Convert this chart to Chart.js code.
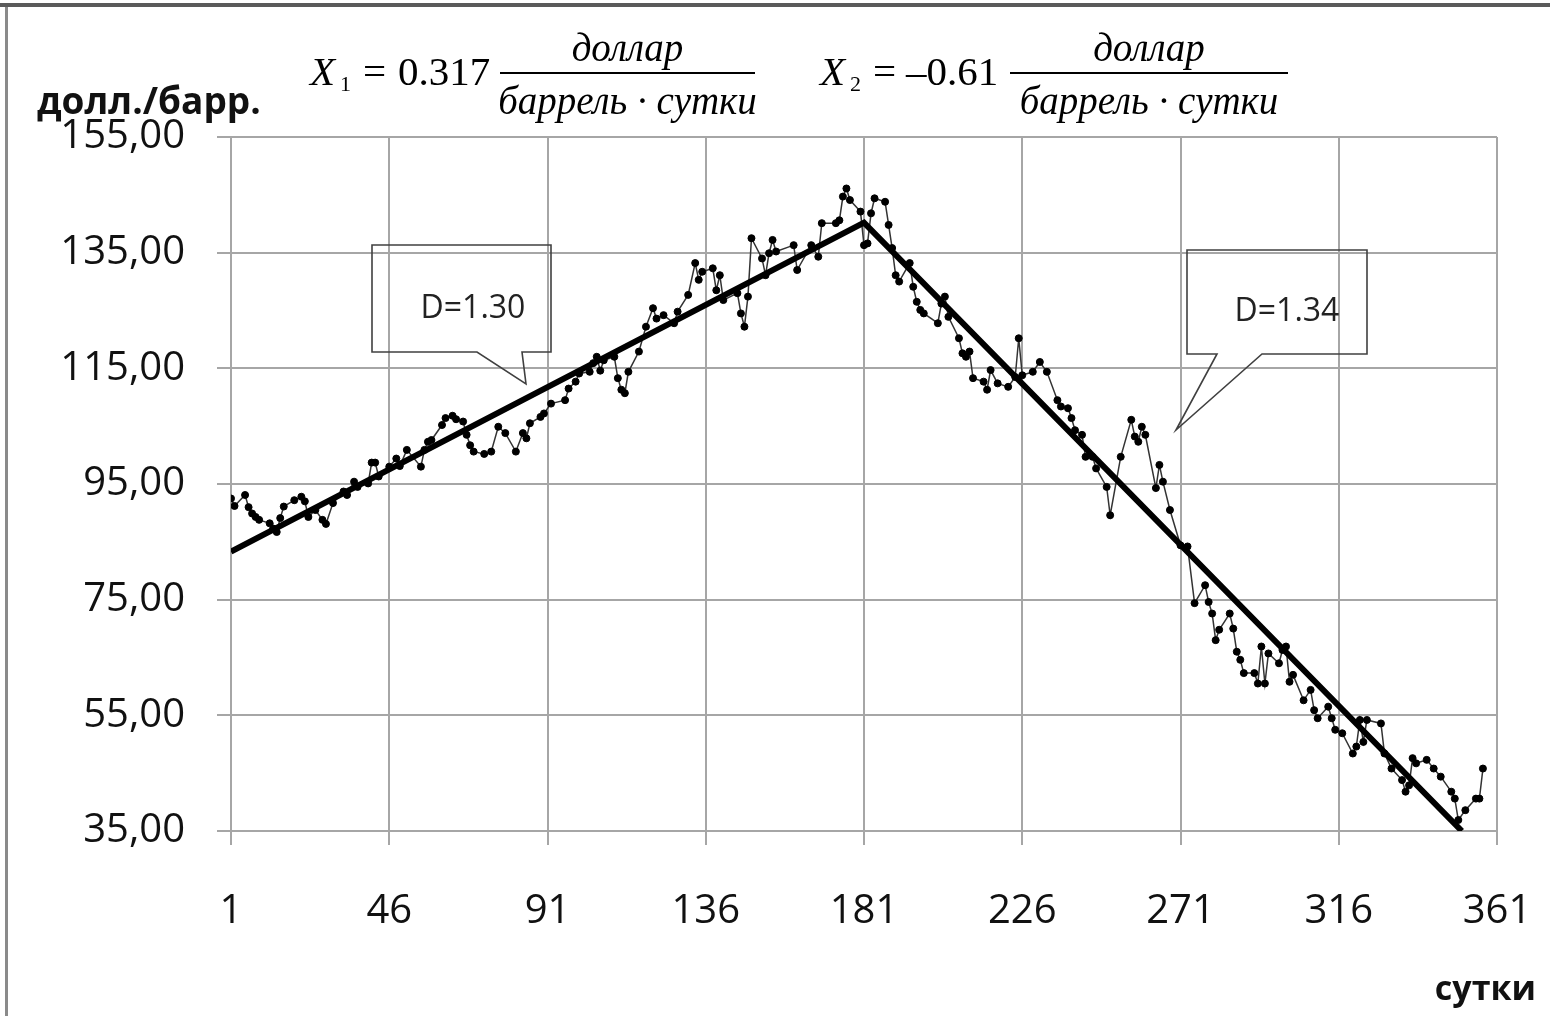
<!DOCTYPE html>
<html>
<head>
<meta charset="utf-8">
<script src="https://cdn.jsdelivr.net/npm/chart.js@4.4.1/dist/chart.umd.min.js"></script>
<style>
  html, body { margin: 0; padding: 0; background: #fff; }
  #wrap { width: 1550px; height: 1016px; position: relative; }
</style>
</head>
<body>
<div id="wrap"><canvas id="myChart" width="1550" height="1016"></canvas></div>
<script>
// цена нефти, долл./барр. по суткам
var days = [1,2,5,6,7,8,9,12,13,14,15,16,19,21,22,23,25,27,28,30,33,34,36,37,40,41,42,43,46,48,49,51,55,56,57,58,61,62,64,65,67,68,69,70,73,75,77,79,82,84,85,86,89,90,92,96,97,99,100,103,104,105,106,107,110,111,112,113,114,117,119,121,122,124,127,128,131,133,134,135,138,139,140,141,145,146,147,148,149,152,153,154,155,156,161,162,166,168,169,173,174,175,176,177,180,181,182,183,184,187,188,189,190,191,194,195,196,197,198,202,203,204,205,208,209,210,211,212,215,216,217,219,222,224,225,226,229,231,233,236,237,239,240,241,243,244,246,247,250,251,254,257,258,259,260,261,264,265,266,268,271,273,275,278,279,280,281,282,285,286,287,288,289,292,293,294,295,296,299,300,301,302,303,306,308,309,310,313,314,315,317,320,321,322,323,324,328,329,331,334,335,336,337,338,341,343,345,348,349,350,352,355,356,357];
var prices = [92.5,91.2,93.1,91.0,89.9,89.3,88.8,88.2,87.3,86.7,89.1,91.1,92.2,92.8,92.0,89.3,90.5,88.8,88.1,91.7,93.7,93.1,95.4,94.5,95.1,98.7,98.7,96.3,98.0,99.4,98.1,100.9,98.0,100.9,102.3,102.6,105.2,106.4,106.8,106.2,105.8,103.5,101.7,100.6,100.2,100.6,104.9,103.8,100.6,103.8,102.9,105.5,106.6,107.2,108.9,109.5,111.5,112.7,114.1,114.4,115.9,117.0,114.6,116.4,117.0,113.3,111.3,110.7,114.4,117.9,122.2,125.4,123.6,124.2,122.8,124.8,127.7,133.2,130.3,131.7,132.3,128.5,131.1,126.8,128.0,124.5,122.2,127.4,137.5,134.0,131.1,134.9,137.2,135.2,136.3,132.0,136.3,134.3,140.1,140.1,140.6,144.7,146.1,144.1,142.1,136.3,136.6,141.8,144.4,143.8,139.8,135.8,131.1,130.0,133.2,129.1,126.5,125.1,124.5,122.8,126.2,127.4,123.9,120.2,117.6,117.0,117.9,113.3,112.7,111.3,114.7,112.4,111.8,113.5,120.2,113.8,114.4,116.1,114.4,109.5,108.4,108.1,106.4,104.3,103.5,99.7,99.7,97.7,94.5,89.6,99.7,106.1,103.2,102.3,104.9,103.5,94.3,98.3,95.4,90.5,84.4,84.2,74.4,77.5,74.6,72.6,68.0,69.8,72.6,70.0,66.0,64.6,62.3,62.3,60.5,66.9,60.5,65.7,64.0,66.3,66.9,60.8,62.0,57.6,59.4,55.9,54.5,56.5,54.5,52.5,51.9,48.4,49.6,54.2,50.4,54.2,53.6,48.4,45.8,43.8,41.8,42.9,47.6,46.7,47.3,45.8,44.4,41.8,40.6,36.9,38.6,40.6,40.6,45.8];

// тренды
var trendDays = [1, 181, 351];
var trendValues = [83.3, 140.2, 35];

var xMin = 1, xMax = 361, xStep = 45;
var yMin = 35, yMax = 155, yStep = 20;

var yTitle = "долл./барр.";
var xTitle = "сутки";
var callouts = ["D=1.30", "D=1.34"];

var seriesPoints = [];
for (var i = 0; i < days.length; i++) {
    seriesPoints.push({x: days[i], y: prices[i]});
}
var trendPoints = [];
for (var j = 0; j < trendDays.length; j++) {
    trendPoints.push({x: trendDays[j], y: trendValues[j]});
}

function callout(ctx, box, tail, tip, text, tx, ty) {
    ctx.save();
    ctx.strokeStyle = "#404040";
    ctx.lineWidth = 1.6;
    ctx.beginPath();
    ctx.moveTo(box[0], box[1]);
    ctx.lineTo(box[2], box[1]);
    ctx.lineTo(box[2], box[3]);
    ctx.lineTo(tail[1], box[3]);
    ctx.lineTo(tip[0], tip[1]);
    ctx.lineTo(tail[0], box[3]);
    ctx.lineTo(box[0], box[3]);
    ctx.closePath();
    ctx.stroke();
    ctx.fillStyle = "#222";
    ctx.font = "32px 'Open Sans'";
    ctx.textAlign = "center";
    ctx.textBaseline = "middle";
    ctx.fillText(text, tx, ty);
    ctx.restore();
}

function formula(ctx, x, sub, value, valueX, lx1, lx2) {
    ctx.save();
    ctx.fillStyle = "#000";
    ctx.textBaseline = "alphabetic";
    ctx.textAlign = "left";
    ctx.font = "italic 41px 'Liberation Serif'";
    ctx.fillText("X", x, 85);
    ctx.font = "22px 'Liberation Serif'";
    ctx.fillText(sub, x + 30, 91);
    ctx.font = "41px 'Liberation Serif'";
    ctx.fillText("=", x + 53, 85);
    ctx.fillText(value, valueX, 85);
    ctx.strokeStyle = "#000";
    ctx.lineWidth = 2;
    ctx.beginPath();
    ctx.moveTo(lx1, 73);
    ctx.lineTo(lx2, 73);
    ctx.stroke();
    ctx.textAlign = "center";
    ctx.font = "italic 39px 'Liberation Serif'";
    ctx.fillText("доллар", (lx1 + lx2) / 2, 61);
    ctx.fillText("баррель · сутки", (lx1 + lx2) / 2, 114);
    ctx.restore();
}

var decor = {
    id: "decor",
    beforeDraw: function(chart) {
        var ctx = chart.ctx;
        ctx.save();
        ctx.fillStyle = "#fff";
        ctx.fillRect(0, 0, chart.width, chart.height);
        // рамка
        ctx.fillStyle = "#5a5a5a";
        ctx.fillRect(0, 3, chart.width, 4);
        ctx.fillStyle = "#8a8a8a";
        ctx.fillRect(5, 7, 3, chart.height - 7);
        ctx.restore();
    },
    afterDraw: function(chart) {
        var ctx = chart.ctx;
        ctx.save();
        ctx.fillStyle = "#111";
        ctx.font = "bold 37px 'Open Sans'";
        ctx.textAlign = "left";
        ctx.textBaseline = "alphabetic";
        ctx.fillText(yTitle, 37, 114);
        ctx.font = "bold 34px 'Open Sans'";
        ctx.textAlign = "right";
        ctx.fillText(xTitle, 1536, 1000);
        ctx.restore();

        formula(ctx, 310, "1", "0.317", 398, 500, 755);
        formula(ctx, 820, "2", "\u20130.61", 906, 1010, 1288);

        callout(ctx, [372, 245, 551, 352], [477, 522], [526, 384], callouts[0], 473, 309);
        callout(ctx, [1187, 250, 1367, 354], [1217, 1262], [1176, 430], callouts[1], 1287, 312);
    }
};

var ctx = document.getElementById("myChart").getContext("2d");
var myChart = new Chart(ctx, {
    type: "line",
    data: {
        datasets: [{
            label: "тренд",
            data: trendPoints,
            borderColor: "#000",
            borderWidth: 6,
            pointRadius: 0,
            tension: 0,
            order: 0
        }, {
            label: "цена",
            data: seriesPoints,
            borderColor: "#333",
            borderWidth: 1.5,
            pointRadius: 3.5,
            pointBackgroundColor: "#000",
            pointBorderColor: "#000",
            pointBorderWidth: 1,
            tension: 0,
            order: 1
        }]
    },
    options: {
        responsive: false,
        animation: false,
        devicePixelRatio: 1,
        layout: { padding: { left: 0, right: 53, top: 137, bottom: 0 } },
        plugins: {
            legend: { display: false },
            tooltip: { enabled: false }
        },
        scales: {
            x: {
                type: "linear",
                min: xMin,
                max: xMax,
                ticks: {
                    stepSize: xStep,
                    padding: 43,
                    color: "#111",
                    font: { family: "Open Sans", size: 40 },
                    maxRotation: 0
                },
                grid: { color: "#a6a6a6", lineWidth: 2, tickLength: 14 },
                border: { color: "#a6a6a6", width: 2 },
                afterFit: function(scale) {
                    scale.height = 185;
                    scale.paddingLeft = 0;
                    scale.paddingRight = 0;
                }
            },
            y: {
                min: yMin,
                max: yMax,
                ticks: {
                    stepSize: yStep,
                    padding: 32,
                    color: "#111",
                    font: { family: "Open Sans", size: 40 },
                    callback: function(v) { return v.toFixed(2).replace(".", ","); }
                },
                grid: { color: "#a6a6a6", lineWidth: 2, tickLength: 14 },
                border: { color: "#a6a6a6", width: 2 },
                afterFit: function(scale) {
                    scale.width = 231;
                    scale.paddingTop = 0;
                    scale.paddingBottom = 0;
                }
            }
        }
    },
    plugins: [decor]
});
</script>
</body>
</html>
